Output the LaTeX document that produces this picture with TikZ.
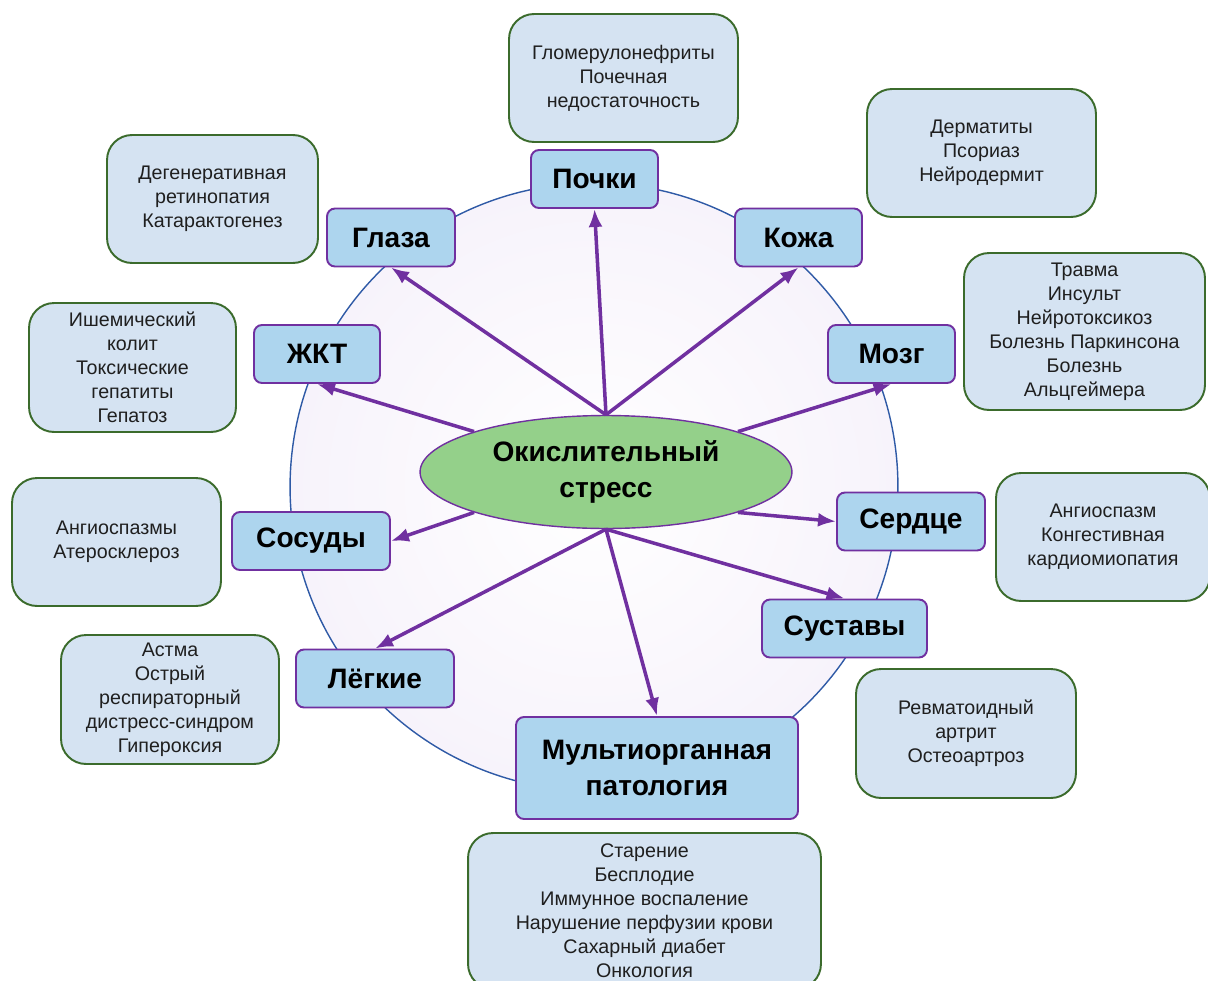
\documentclass[tikz,border=0pt]{standalone}
\usepackage{fontspec}
\setmainfont{Liberation Sans}
\usepackage{tikz}
\usetikzlibrary{shapes, arrows, arrows.meta, positioning}
\definecolor{arrowviolet}{HTML}{7030A0}
\definecolor{organblue}{HTML}{ADD5EE}
\definecolor{infoblue}{HTML}{D5E3F2}
\definecolor{infogreen}{HTML}{3B6B2C}
\definecolor{stressgreen}{HTML}{94D08A}
\definecolor{ringblue}{HTML}{2F5AA6}
\definecolor{ringfill}{HTML}{F7F3FB}
\tikzstyle{arrow}  = [every edge/.style={draw=arrowviolet, line width=2pt, -{Latex[length=0.36cm, width=0.28cm]}}]
\tikzstyle{organ}  = [draw=arrowviolet, fill=organblue, rounded corners=0.16cm, line width=1.1pt, minimum height=1.16cm, inner sep=0pt, align=center, font=\fontsize{16}{20.5}\selectfont\bfseries]
\tikzstyle{note}   = [draw=infogreen, fill=infoblue, rounded corners=0.5cm, line width=1.1pt, minimum height=2.56cm, inner sep=0pt, align=center, text=black!88, font=\fontsize{11.2}{13.7}\selectfont]
\tikzstyle{stress} = [draw=arrowviolet, fill=stressgreen, ellipse, line width=0.8pt, minimum width=7.44cm, minimum height=2.26cm, inner sep=0pt, align=center, font=\fontsize{16}{20}\selectfont\bfseries]
\tikzstyle{ring}   = [draw=ringblue, inner color=white, outer color=ringfill, circle, line width=0.8pt, minimum size=12.16cm, inner sep=0pt]

\begin{document}
\begin{tikzpicture}[x = 0.02cm, y = -0.02cm]

\useasboundingbox (0, 0) rectangle (1208, 981);

% ring
\node [ring]                          at ( 594   , 487   ) (ring)    {};

% nodes
\node [stress]                        at ( 606   , 472   ) (stress)  {Окислительный\\стресс};
\node [organ, minimum width=2.54cm]   at ( 594.5 , 179   ) (pochki)  {Почки};
\node [organ, minimum width=2.56cm]   at ( 391   , 237.5 ) (glaza)   {Глаза};
\node [organ, minimum width=2.54cm]   at ( 798.5 , 237.5 ) (koja)    {Кожа};
\node [organ, minimum width=2.52cm]   at ( 317   , 354   ) (jkt)     {ЖКТ};
\node [organ, minimum width=2.54cm]   at ( 891.5 , 354   ) (mozg)    {Мозг};
\node [organ, minimum width=3.16cm]   at ( 311   , 541   ) (sosudy)  {Сосуды};
\node [organ, minimum width=2.96cm]   at ( 911   , 521.5 ) (serdce)  {Сердце};
\node [organ, minimum width=3.16cm]   at ( 375   , 678.5 ) (legkie)  {Лёгкие};
\node [organ, minimum width=3.30cm]   at ( 844.5 , 628.5 ) (sustavy) {Суставы};
\node [organ, minimum width=5.64cm, minimum height=2.04cm]
                                      at ( 657   , 768   ) (multi)   {Мультиорганная\\патология};

% notes
\node [note, minimum width=4.58cm]    at ( 623.5 , 78    ) (pochkinote)  {Гломерулонефриты\\Почечная\\недостаточность};
\node [note, minimum width=4.58cm]    at ( 981.5 , 153   ) (kojanote)    {Дерматиты\\Псориаз\\Нейродермит};
\node [note, minimum width=4.22cm]    at ( 212.5 , 199   ) (glazanote)   {Дегенеративная\\ретинопатия\\Катарактогенез};
\node [note, minimum width=4.82cm, minimum height=3.14cm]
                                      at ( 1084.5, 331.5 ) (mozgnote)    {Травма\\Инсульт\\Нейротоксикоз\\Болезнь Паркинсона\\Болезнь\\Альцгеймера};
\node [note, minimum width=4.14cm, minimum height=2.58cm]
                                      at ( 132.5 , 367.5 ) (jktnote)     {Ишемический\\колит\\Токсические\\гепатиты\\Гепатоз};
\node [note, minimum width=4.18cm]    at ( 116.5 , 542   ) (sosudynote)  {Ангиоспазмы\\Атеросклероз};
\node [note, minimum width=4.28cm]    at ( 1103  , 537   ) (serdcenote)  {Ангиоспазм\\Конгестивная\\кардиомиопатия};
\node [note, minimum width=4.36cm, minimum height=2.58cm]
                                      at ( 170   , 699.5 ) (legkienote)  {Астма\\Острый\\респираторный\\дистресс-синдром\\Гипероксия};
\node [note, minimum width=4.40cm, minimum height=2.58cm]
                                      at ( 966   , 733.5 ) (sustavynote) {Ревматоидный\\артрит\\Остеоартроз};
\node [note, minimum width=7.06cm, minimum height=3.12cm]
                                      at ( 644.5 , 911   ) (multinote)   {Старение\\Бесплодие\\Иммунное воспаление\\Нарушение перфузии крови\\Сахарный диабет\\Онкология};

%  edges
\path [arrow] (stress.north)      edge (pochki.south)
              (stress.north)      edge (glaza.south)
              (stress.north)      edge (koja.south)
              (stress.north west) edge (jkt.south)
              (stress.north east) edge (mozg.south)
              (stress.south west) edge (sosudy.east)
              (stress.south east) edge (serdce.west)
              (stress.south)      edge (legkie.north)
              (stress.south)      edge (multi.north)
              (stress.south)      edge (sustavy.north);

\end{tikzpicture}
\end{document}
